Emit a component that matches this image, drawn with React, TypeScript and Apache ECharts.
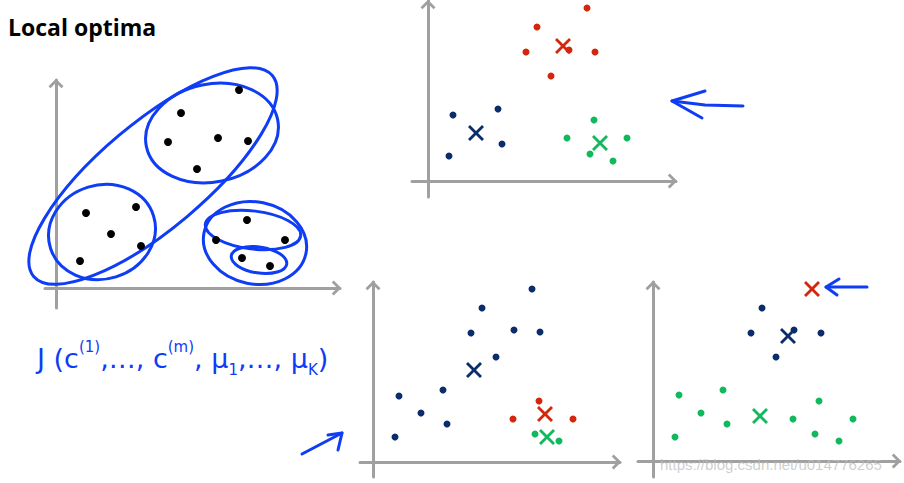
import React, { useEffect, useRef } from "react";
import * as echarts from "echarts";

const titleText = "Local optima";
const watermarkText = "https://blog.csdn.net/u014776265";

// Panel 1: unclustered data (black)
const p1Black = [
  [18.3, 19.8], [12.5, 17.5], [11.2, 14.6], [16.2, 15.0], [19.2, 14.7], [14.1, 11.9],
  [3.0, 7.5], [8.0, 8.1], [5.5, 5.4], [8.5, 4.2], [2.4, 2.7],
  [19.1, 6.8], [16.0, 4.8], [22.9, 4.8], [18.6, 3.0], [21.4, 2.2],
];

// Panel 2: good clustering
const p2Red = [[15.9, 17.3], [10.9, 15.4], [9.8, 12.9], [14.1, 13.1], [16.7, 12.9], [12.3, 10.5]];
const p2RedX = [[13.5, 13.5]];
const p2Navy = [[2.5, 6.6], [7.0, 7.2], [7.4, 3.7], [2.1, 2.5]];
const p2NavyX = [[4.8, 4.8]];
const p2Green = [[16.6, 6.1], [13.9, 4.3], [19.9, 4.3], [16.2, 2.7], [18.5, 2.0]];
const p2GreenX = [[17.2, 3.8]];

// Panel 3: local optimum A
const p3Navy = [
  [15.9, 17.3], [10.9, 15.4], [9.8, 12.9], [14.1, 13.2], [16.7, 13.0], [12.3, 10.5],
  [7.0, 7.2], [2.6, 6.6], [4.8, 4.9], [7.4, 3.8], [2.2, 2.5],
];
const p3NavyX = [[10.1, 9.2]];
const p3Red = [[16.6, 6.1], [14.0, 4.3], [20.0, 4.3]];
const p3RedX = [[17.2, 4.8]];
const p3Green = [[16.2, 2.8], [18.6, 2.1]];
const p3GreenX = [[17.4, 2.5]];

// Panel 4: local optimum B
const p4Navy = [[10.9, 15.3], [9.8, 12.8], [14.1, 13.1], [16.8, 12.8], [12.3, 10.4]];
const p4NavyX = [[13.5, 12.5]];
const p4RedX = [[15.9, 17.2]];
const p4Green = [
  [2.6, 6.6], [7.0, 7.1], [4.8, 4.8], [7.4, 3.7], [2.2, 2.4],
  [14.0, 4.2], [16.6, 6.0], [20.0, 4.2], [16.2, 2.7], [18.6, 2.0],
];
const p4GreenX = [[10.7, 4.5]];

// axis ranges per panel [xmin, xmax, ymin, ymax]
const axisRanges = [
  [-1.1, 28.4, -2.0, 20.8],
  [-1.6, 24.8, -1.6, 18.0],
  [-1.3, 24.7, -1.5, 18.0],
  [-1.5, 24.7, -1.6, 17.9],
];

const BLACK = "#000000";
const RED = "#d4260c";
const NAVY = "#0c2d6b";
const GREEN = "#10b95c";
const INK = "#0f3cf5";
const AXIS = "#a0a0a0";

const CHEVRON = "path://M0,15L15,0L30,15L26,19L15,8L4,19Z";
const XMARK = "path://M0,2.5L2.5,0L10,7.5L17.5,0L20,2.5L12.5,10L20,17.5L17.5,20L10,12.5L2.5,20L0,17.5L7.5,10Z";

export default function App() {
  const ref = useRef<HTMLDivElement>(null);

  useEffect(() => {
    if (!ref.current) return;
    const chart = echarts.init(ref.current, undefined, { renderer: "svg" });

    const grids = [
      { left: 45, top: 80, width: 295, height: 228 },
      { left: 412, top: 1, width: 264, height: 196 },
      { left: 360, top: 282, width: 260, height: 195 },
      { left: 638, top: 282, width: 262, height: 195 },
    ];

    const axisCommon = {
      type: "value",
      axisLine: {
        show: true,
        onZero: true,
        symbol: ["none", CHEVRON],
        symbolSize: [15, 9.5],
        symbolOffset: [0, -3.5],
        lineStyle: { color: AXIS, width: 3 },
      },
      axisTick: { show: false },
      axisLabel: { show: false },
      splitLine: { show: false },
    };

    const xAxis = axisRanges.map((r, i) => ({ ...axisCommon, gridIndex: i, min: r[0], max: r[1] }));
    const yAxis = axisRanges.map((r, i) => ({ ...axisCommon, gridIndex: i, min: r[2], max: r[3] }));

    const dots = (data: number[][], color: string, panel: number, size = 7) => ({
      type: "scatter",
      xAxisIndex: panel,
      yAxisIndex: panel,
      data,
      symbol: "circle",
      symbolSize: size,
      itemStyle: { color, opacity: 1 },
      z: 3,
    });
    const cross = (data: number[][], color: string, panel: number) => ({
      type: "scatter",
      xAxisIndex: panel,
      yAxisIndex: panel,
      data,
      symbol: XMARK,
      symbolSize: 16,
      itemStyle: { color, opacity: 1 },
      z: 4,
    });

    const series = [
      dots(p1Black, BLACK, 0, 8),
      dots(p2Red, RED, 1), cross(p2RedX, RED, 1),
      dots(p2Navy, NAVY, 1), cross(p2NavyX, NAVY, 1),
      dots(p2Green, GREEN, 1), cross(p2GreenX, GREEN, 1),
      dots(p3Navy, NAVY, 2), cross(p3NavyX, NAVY, 2),
      dots(p3Red, RED, 2), cross(p3RedX, RED, 2),
      dots(p3Green, GREEN, 2), cross(p3GreenX, GREEN, 2),
      dots(p4Navy, NAVY, 3), cross(p4NavyX, NAVY, 3),
      cross(p4RedX, RED, 3),
      dots(p4Green, GREEN, 3), cross(p4GreenX, GREEN, 3),
    ];

    const ink = { stroke: INK, lineWidth: 3, fill: "none", lineCap: "round", lineJoin: "round" };
    const ellipse = (x: number, y: number, rx: number, ry: number, rotation: number) => ({
      type: "ellipse",
      x,
      y,
      rotation,
      shape: { cx: 0, cy: 0, rx, ry },
      style: { ...ink },
      z: 2,
    });
    const poly = (points: number[][]) => ({
      type: "polyline",
      shape: { points },
      style: { ...ink, fill: null },
      z: 5,
    });

    const graphic = [
      {
        type: "text",
        x: 8,
        y: 38,
        style: {
          text: titleText,
          fill: "#000",
          font: "bold 23px 'Open Sans'",
          textVerticalAlign: "bottom",
        },
      },
      ellipse(153, 176, 156, 53, 0.7),
      ellipse(212, 133, 67, 49, 0.2),
      ellipse(102, 232, 54, 47, 0.3),
      ellipse(255, 243, 52, 41, -0.2),
      ellipse(253, 230, 48, 19, -0.12),
      ellipse(259, 260, 28, 13, -0.15),
      poly([[743, 106], [705, 105], [672, 101]]),
      poly([[705, 91], [672, 101], [702, 118]]),
      poly([[302, 454], [342, 433]]),
      poly([[328, 435], [342, 433], [338, 450]]),
      poly([[867, 287], [826, 287]]),
      poly([[839, 279], [826, 287], [837, 295]]),
      {
        type: "text",
        x: 37,
        y: 358,
        z: 5,
        style: {
          text: "{m|J (c}{s|(1)}{m|,…, c}{s|(m)}{m|, μ}{b|1}{m|,…, μ}{b|K}{m|)}",
          fill: INK,
          textVerticalAlign: "middle",
          rich: {
            m: { fontSize: 27, fontFamily: "DejaVu Sans", fill: INK, lineHeight: 38, verticalAlign: "middle" },
            s: { fontSize: 15, fontFamily: "DejaVu Sans", fill: INK, lineHeight: 38, verticalAlign: "top" },
            b: { fontSize: 15, fontFamily: "DejaVu Sans", fill: INK, lineHeight: 38, verticalAlign: "bottom" },
          },
        },
      },
      {
        type: "text",
        x: 660,
        y: 464,
        z: 10,
        style: {
          text: watermarkText,
          fill: "rgba(190,190,190,0.75)",
          font: "15px 'Liberation Sans'",
          textVerticalAlign: "middle",
        },
      },
    ];

    chart.setOption({
      animation: false,
      backgroundColor: "#ffffff",
      grid: grids,
      xAxis,
      yAxis,
      series,
      graphic,
    });

    return () => chart.dispose();
  }, []);

  return (
    <div
      ref={ref}
      style={{ position: "absolute", left: 0, top: 0, width: 904, height: 483 }}
    />
  );
}
